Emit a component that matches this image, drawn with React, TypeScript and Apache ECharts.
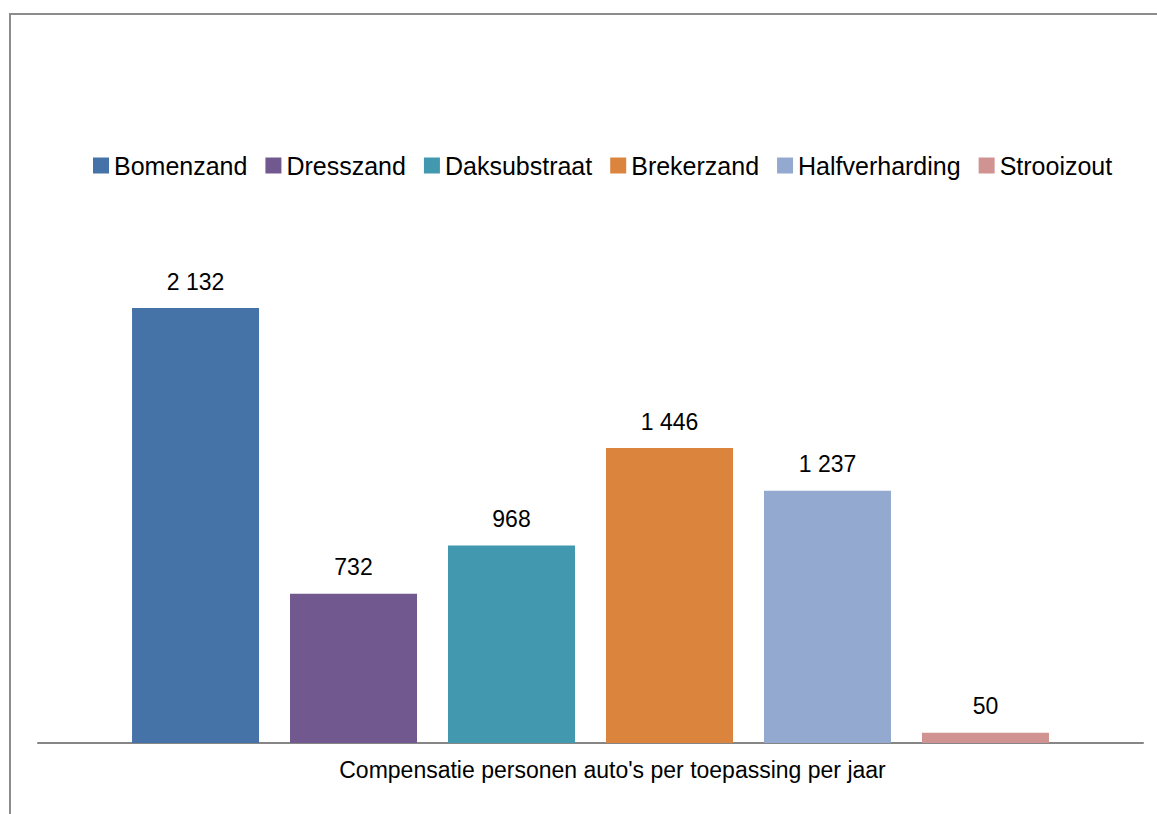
import React, { useEffect, useRef } from "react";
import * as echarts from "echarts";

const categories = ["Compensatie personen auto's per toepassing per jaar"];
const seriesNames = ["Bomenzand", "Dresszand", "Daksubstraat", "Brekerzand", "Halfverharding", "Strooizout"];
const seriesValues = [2132, 732, 968, 1446, 1237, 50];
const seriesColors = ["#4573A7", "#71588F", "#4198AF", "#DB843D", "#93A9CF", "#D19392"];

const fmt = (v: number) => {
  const s = String(Math.round(v));
  return s.replace(/\B(?=(\d{3})+(?!\d))/g, " ");
};

export default function App() {
  const ref = useRef<HTMLDivElement>(null);
  useEffect(() => {
    if (!ref.current) return;
    const chart = echarts.init(ref.current, null, { renderer: "svg" });
    const font = "'Liberation Sans', Arial, sans-serif";
    chart.setOption({
      animation: false,
      backgroundColor: "#ffffff",
      textStyle: { fontFamily: font },
      graphic: [
        {
          type: "polyline",
          shape: { points: [[10, 814], [10, 14], [1157, 14]] },
          style: { stroke: "#8c8c8c", lineWidth: 2, fill: "none" },
          silent: true,
        },
      ],
      legend: {
        top: 148,
        left: 88,
        itemWidth: 16,
        itemHeight: 16,
        itemGap: 18,
        icon: "rect",
        textStyle: { fontSize: 25, color: "#000", fontFamily: font },
        data: seriesNames,
      },
      grid: { left: 38, right: 14, top: 233, bottom: 814 - 743 },
      xAxis: {
        type: "category",
        data: categories,
        axisLine: { lineStyle: { color: "#868686", width: 2 } },
        axisTick: { show: false },
        axisLabel: {
          fontSize: 23,
          color: "#000",
          margin: 15,
          padding: [0, 0, 0, 44],
          fontFamily: font,
        },
      },
      yAxis: {
        type: "value",
        min: 0,
        max: 2500,
        show: false,
        splitLine: { show: false },
      },
      series: seriesNames.map((name, i) => ({
        name,
        type: "bar",
        barWidth: 127,
        barGap: "24.4%",
        itemStyle: { color: seriesColors[i] },
        data: [seriesValues[i]],
        label: {
          show: true,
          position: "top",
          distance: 15,
          fontSize: 23,
          color: "#000",
          fontFamily: font,
          formatter: (p: any) => fmt(p.value),
        },
      })),
    });
    return () => chart.dispose();
  }, []);
  return (
    <div
      ref={ref}
      style={{ position: "absolute", left: 0, top: 0, width: 1157, height: 814 }}
    />
  );
}
